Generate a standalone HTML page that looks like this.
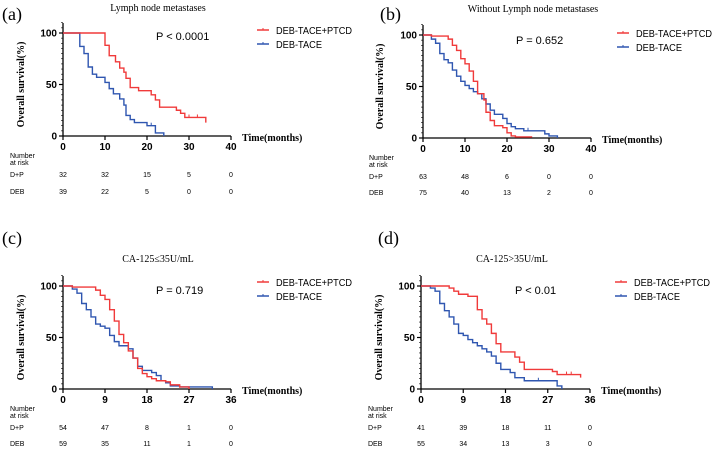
<!DOCTYPE html>
<html><head><meta charset="utf-8"><style>
body{margin:0;background:#fff;}
svg{display:block;font-family:"Liberation Sans",sans-serif;}
.serif{font-family:"Liberation Serif",serif;}
</style></head><body>
<svg id="fig" width="715" height="451" viewBox="0 0 715 451"></svg>
<script>
// Panel (a)
const aRedT=[0,10,11,12.5,13.5,14.5,15,16,18,21,22,23,27,28,29,34];
const aRedS=[100,88,78,72,66,62,56,47,44,40,35,28,25,22,18,13];
const aBlueT=[0,4,5,6,7,8,10,11,12,13.5,14.5,15,16,17,20,22,24];
const aBlueS=[100,87,80,67,60,57,52,46,41,36,30,20,16,13,10,3,0];
const aTicks=[0,10,20,30,40];
const aRiskDP=["32","32","15","5","0"];
const aRiskDEB=["39","22","5","0","0"];
// Panel (b)
const bRedT=[0,2,6,7,8,9,10,11,12,13,14.5,15,16,17,19,20,21,22,26];
const bRedS=[100,99,96,90,85,77,72,65,55,43,37,25,17,12,10,5,2,1,1];
const bBlueT=[0,2,3,4,5,6,7,8,9,10,11,12,13,14,15,16,17,19,20,21,22,24,29,30,32];
const bBlueS=[100,96,92,82,76,73,66,60,55,51,48,45,43,38,33,27,23,19,14,11,9,7,4,2,0];
const bTicks=[0,10,20,30,40];
const bRiskDP=["63","48","6","0","0"];
const bRiskDEB=["75","40","13","2","0"];
// Panel (c)
const cRedT=[0,2,7,8,9,10,11,12,13,14,15,16,17,18,19,20,22,23,25,27];
const cRedS=[100,99,96,91,87,77,66,53,45,37,30,20,15,12,10,8,7,4,2,0];
const cBlueT=[0,2,3,4,5,6,7,8,9,10,11,12,14,15,16,17,19,20,21,22,23,25,32];
const cBlueS=[100,97,93,83,77,70,63,61,59,52,46,42,39,30,22,18,16,13,8,6,3,2,0];
const cTicks=[0,9,18,27,36];
const cRiskDP=["54","47","8","1","0"];
const cRiskDEB=["59","35","11","1","0"];
// Panel (d)
const dRedT=[0,6,7,8,10,12,13,14,15,16,17,20,21,22,28,29,34];
const dRedS=[100,98,95,92,90,77,68,63,54,44,36,31,26,19,17,14,11];
const dBlueT=[0,2,3,4,5,6,7,8,9,10,11,12,13,14,15,16,17,19,20,22,29,30];
const dBlueS=[100,98,95,83,76,70,63,54,52,48,45,42,39,36,32,25,19,16,11,8,3,0];
const dTicks=[0,9,18,27,36];
const dRiskDP=["41","39","18","11","0"];
const dRiskDEB=["55","34","13","3","0"];

const NS="http://www.w3.org/2000/svg";
const svg=document.getElementById('fig');
function mk(tag,attrs,parent,text){const e=document.createElementNS(NS,tag);for(const k in attrs)e.setAttribute(k,attrs[k]);if(text!==undefined)e.textContent=text;(parent||svg).appendChild(e);return e;}

const panels=[
 {id:'a',letter:'(a)',lx:2,ly:20,title:'Lymph node metastases',tx:158,ty:11,x0:63,x1:231,y100:33,y0:136,xmax:40,p:'P < 0.0001',px:156,py:40,legX:257,legY:30,ylx:24,rows:[158,165,177,194],nx:10,
  red:[aRedT,aRedS],blue:[aBlueT,aBlueS],ticks:aTicks,dp:aRiskDP,deb:aRiskDEB,redCens:[30,32],blueCens:[21]},
 {id:'b',letter:'(b)',lx:380,ly:20,title:'Without Lymph node metastases',tx:533,ty:12,x0:423,x1:591,y100:35,y0:138,xmax:40,p:'P = 0.652',px:516,py:44,legX:617,legY:33,ylx:383,rows:[160,167,179,195],nx:369,
  red:[bRedT,bRedS],blue:[bBlueT,bBlueS],ticks:bTicks,dp:bRiskDP,deb:bRiskDEB,redCens:[],blueCens:[25]},
 {id:'c',letter:'(c)',lx:2,ly:244,title:'CA-125≤35U/mL',tx:158,ty:262,x0:63,x1:231,y100:286,y0:389,xmax:36,p:'P = 0.719',px:156,py:294,legX:257,legY:282,ylx:24,rows:[411,418,430,446],nx:10,
  red:[cRedT,cRedS],blue:[cBlueT,cBlueS],ticks:cTicks,dp:cRiskDP,deb:cRiskDEB,redCens:[],blueCens:[]},
 {id:'d',letter:'(d)',lx:378,ly:244,title:'CA-125>35U/mL',tx:512,ty:262,x0:421,x1:590,y100:286,y0:389,xmax:36,p:'P < 0.01',px:515,py:294,legX:615,legY:282,ylx:382,rows:[411,418,430,446],nx:368,
  red:[dRedT,dRedS],blue:[dBlueT,dBlueS],ticks:dTicks,dp:dRiskDP,deb:dRiskDEB,redCens:[31,32],blueCens:[25]}
];
const RED='#f03a3a',BLUE='#2f56b0';
panels.forEach(P=>{
 const g=mk('g',{});
 
 
 const X=t=>P.x0+(P.x1-P.x0)*t/P.xmax;
 const Y=s=>P.y0-(P.y0-P.y100)*s/100;
 let e=mk('text',{x:P.lx,y:P.ly,'font-size':18,class:'serif'},g,P.letter);
 
 e=mk('text',{x:P.tx,y:P.ty,'font-size':10,'text-anchor':'middle',class:'serif'},g,P.title);
 
 e=mk('line',{x1:P.x0,y1:P.y0,x2:P.x1,y2:P.y0,stroke:'#000','stroke-width':1.3},g);
 
 e=mk('line',{x1:P.x0,y1:P.y0,x2:P.x0,y2:P.y100-10,stroke:'#000','stroke-width':1.3},g);
 
 for(let v=0;v<=110;v+=5){const big=v%50===0;
  e=mk('line',{x1:P.x0-(big?4:2),y1:Y(v),x2:P.x0,y2:Y(v),stroke:'#000','stroke-width':big?1.2:0.6},g);
  }
 [0,50,100].forEach(v=>{e=mk('text',{x:P.x0-6,y:Y(v)+3.5,'font-size':10,'font-weight':'bold','text-anchor':'end'},g,String(v));
  });
 P.ticks.forEach(v=>{e=mk('line',{x1:X(v),y1:P.y0,x2:X(v),y2:P.y0+4,stroke:'#000','stroke-width':1.2},g);
  
  e=mk('text',{x:X(v),y:P.y0+14,'font-size':10,'font-weight':'bold','text-anchor':'middle'},g,String(v));
  });
 e=mk('text',{x:P.x1+11,y:P.y0+5,'font-size':10,'font-weight':'bold',class:'serif'},g,'Time(months)');
 
 const ym=(P.y0+P.y100)/2;
 e=mk('text',{x:P.ylx,y:ym,'font-size':10,'font-weight':'bold','text-anchor':'middle',class:'serif',transform:`rotate(-90 ${P.ylx} ${ym})`},g,'Overall survival(%)');
 
 [[P.blue,BLUE,'blue',P.blueCens],[P.red,RED,'red',P.redCens]].forEach(([d,col,nm,cens])=>{
  const T=d[0],S=d[1];let path=`M${X(T[0])},${Y(S[0])}`;
  for(let i=1;i<T.length;i++){path+=` H${X(T[i])} V${Y(S[i])}`;}
  e=mk('path',{d:path,fill:'none',stroke:col,'stroke-width':1.4},g);
  
  cens.forEach(c=>{let s=S[0];for(let i=0;i<T.length;i++)if(T[i]<=c)s=S[i];
   e=mk('line',{x1:X(c),y1:Y(s)-3,x2:X(c),y2:Y(s),stroke:col,'stroke-width':1},g);
   });
 });
 e=mk('text',{x:P.px,y:P.py,'font-size':11},g,P.p);
 
 [['DEB-TACE+PTCD',RED,P.legY,76],['DEB-TACE',BLUE,P.legY+14,46]].forEach(([lab,col,yy,w])=>{
  e=mk('line',{x1:P.legX,y1:yy,x2:P.legX+12,y2:yy,stroke:col,'stroke-width':1.5},g);
  
  e=mk('line',{x1:P.legX+6,y1:yy-2,x2:P.legX+6,y2:yy,stroke:col,'stroke-width':1},g);
  e=mk('text',{x:P.legX+19,y:yy+4,'font-size':10,textLength:w,lengthAdjust:'spacingAndGlyphs'},g,lab);
  });
 e=mk('text',{x:P.nx,y:P.rows[0],'font-size':7},g,'Number');
 
 mk('text',{x:P.nx,y:P.rows[1],'font-size':7},g,'at risk');
 [['D+P',P.dp,P.rows[2]],['DEB',P.deb,P.rows[3]]].forEach(([lab,vals,yy])=>{
  e=mk('text',{x:P.nx,y:yy,'font-size':7},g,lab);
  
  vals.forEach((v,i)=>{e=mk('text',{x:X(P.ticks[i]),y:yy,'font-size':7,'text-anchor':'middle'},g,v);
   });
 });
});
</script>
</body></html>
